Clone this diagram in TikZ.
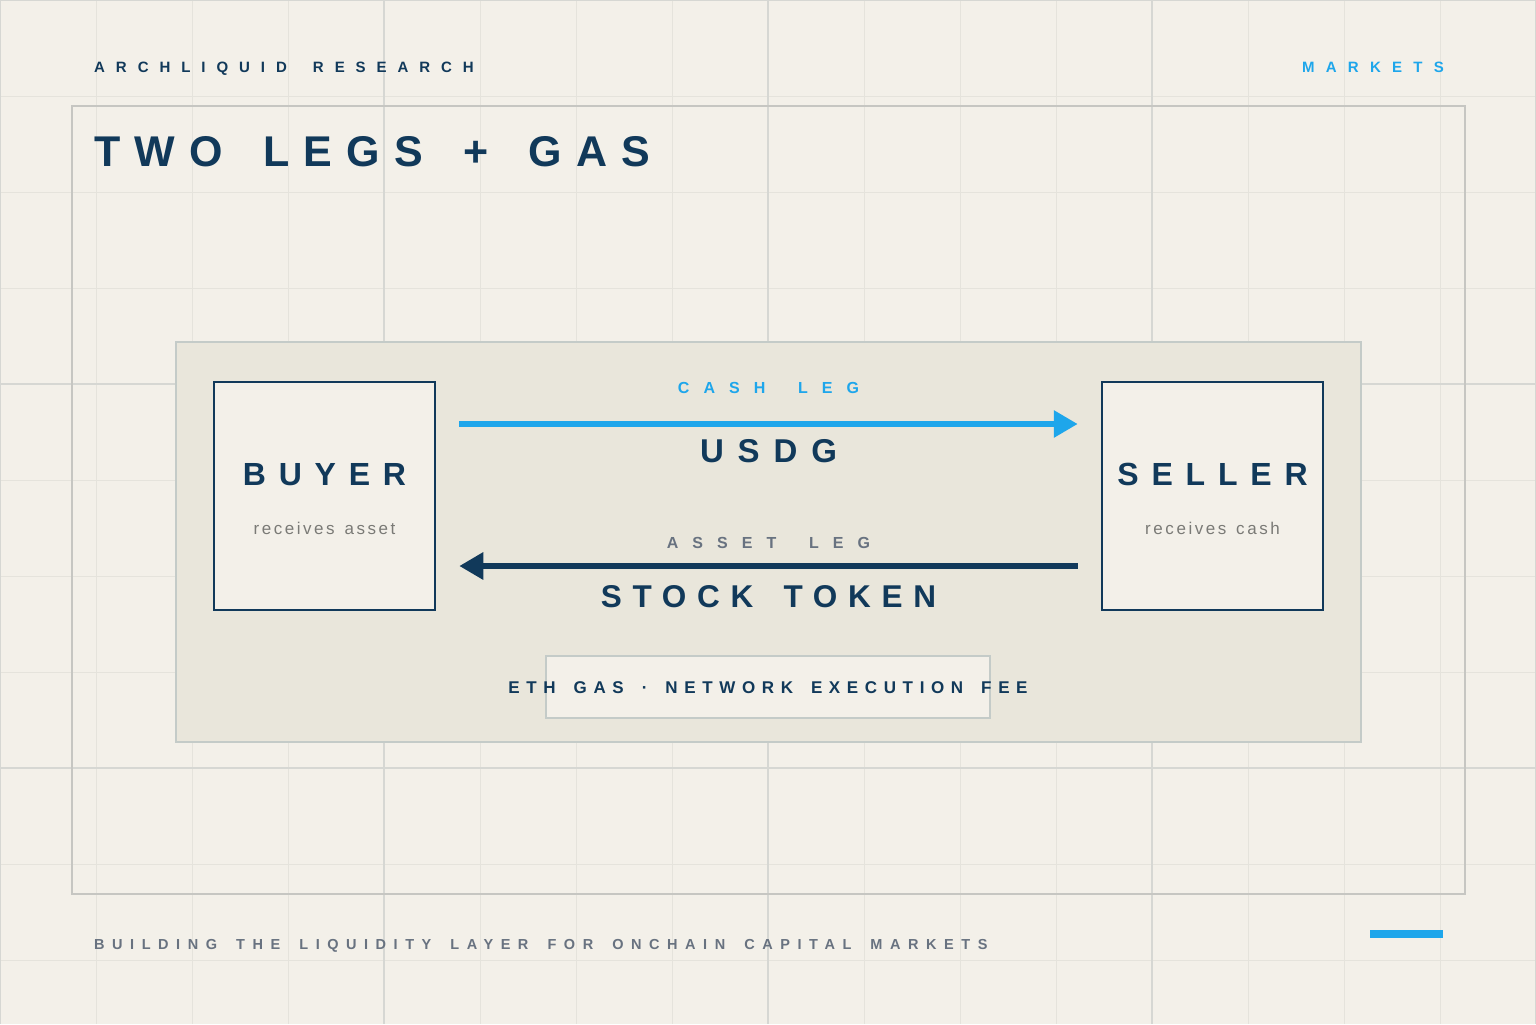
\documentclass[tikz,border=0pt]{standalone}
\usepackage{fontspec}
\setmainfont{Liberation Sans}
\usetikzlibrary{arrows.meta}
\definecolor{ink}{RGB}{17,57,90}
\definecolor{sky}{RGB}{30,166,235}
\definecolor{slate}{RGB}{104,114,128}
\definecolor{muted}{RGB}{122,122,118}
\definecolor{paper}{RGB}{243,240,233}
\definecolor{panelfill}{RGB}{233,230,219}
\definecolor{panelrule}{RGB}{196,203,200}
\definecolor{framerule}{RGB}{198,198,194}
\definecolor{gridminor}{RGB}{229,227,220}
\definecolor{gridmajor}{RGB}{214,215,211}
% size, letter spacing in percent of the size
\newcommand{\spacedfont}[2]{\fontsize{#1}{#1}\selectfont
  \addfontfeatures{LetterSpace=#2}\def\lsamount{#2}}
% word space of a tracked text
\newcommand{\wordgap}{\hspace{\dimexpr0.278em+\lsamount em/50\relax}}

\begin{document}
\begin{tikzpicture}[x=1bp,y=-1bp,
  tracked/.style 2 args={inner sep=0pt,anchor=base,font=\bfseries\spacedfont{#1}{#2}},
  note/.style={inner sep=0pt,anchor=base,text=muted,font=\spacedfont{17bp}{15}},
  party/.style={draw=ink,line width=2.5bp,fill=paper,inner sep=0pt,
    minimum width=221bp,minimum height=228bp},
  leg/.style={line width=6.5bp,-{Triangle[length=24bp,width=26bp]},
    shorten <=23bp,shorten >=23bp}]

  \useasboundingbox (0,0) rectangle (1536,1024);
  \fill[paper] (0,0) rectangle (1536,1024);
  % grid
  \foreach \g in {0,96,...,1536} \draw[gridminor,line width=1bp] (\g,0) -- (\g,1024);
  \foreach \g in {0,96,...,1024} \draw[gridminor,line width=1bp] (0,\g) -- (1536,\g);
  \foreach \g in {0,384,...,1536} \draw[gridmajor,line width=1.5bp] (\g,0) -- (\g,1024);
  \foreach \g in {0,384,768} \draw[gridmajor,line width=1.5bp] (0,\g) -- (1536,\g);
  \draw[framerule,line width=1.5bp] (72,106) rectangle (1465,894);

  \node[tracked={15bp}{73},anchor=base west,text=ink] (brand) at (94,72) {ARCHLIQUID\wordgap RESEARCH};
  \node[tracked={15bp}{75},anchor=base east,text=sky] (section) at (1444,72) {MARKETS};
  \node[tracked={43bp}{33},anchor=base west,text=ink] (title) at (94,166) {TWO\wordgap LEGS\wordgap +\wordgap GAS};

  \draw[panelrule,fill=panelfill,line width=2bp] (176,342) rectangle (1361,742);

  \node[party] (buyer) at (324.5,496) {};
  \node[party] (seller) at (1212.5,496) {};
  \node[tracked={32bp}{40},text=ink] (buyername) at ([yshift=11bp]buyer.center) {BUYER};
  \node[note] (buyernote) at ([yshift=-38bp]buyer.center) {receives\wordgap asset};
  \node[tracked={32bp}{40},text=ink] (sellername) at ([yshift=11bp]seller.center) {SELLER};
  \node[note] (sellernote) at ([yshift=-38bp]seller.center) {receives\wordgap cash};

  \draw[leg,sky] ([yshift=72bp]buyer.east) -- ([yshift=72bp]seller.west)
    node[midway,tracked={16bp}{88},yshift=30.7bp,text=sky] (cashleg) {CASH\wordgap LEG}
    node[midway,tracked={33bp}{42},yshift=-38bp,text=ink] (usdg) {USDG};
  \draw[leg,ink] ([yshift=-70bp]seller.west) -- ([yshift=-70bp]buyer.east)
    node[midway,tracked={16bp}{88},yshift=18bp,text=slate] (assetleg) {ASSET\wordgap LEG}
    node[midway,tracked={31.5bp}{34},yshift=-41bp,text=ink] (token) {STOCK\wordgap TOKEN};

  \node[draw=panelrule,line width=2.5bp,fill=paper,minimum width=444bp,minimum height=62bp] (gas) at (768,687) {};
  \node[tracked={17bp}{39},text=ink] (gasnote) at ([yshift=-6.3bp]gas.center)
    {ETH\wordgap GAS\wordgap ·\wordgap NETWORK\wordgap EXECUTION\wordgap FEE};

  \node[tracked={14.5bp}{52},anchor=base west,text=slate] (tagline) at (94,949)
    {BUILDING\wordgap THE\wordgap LIQUIDITY\wordgap LAYER\wordgap FOR\wordgap ONCHAIN\wordgap CAPITAL\wordgap MARKETS};
  \fill[sky] (1370,930) rectangle (1443,938);
\end{tikzpicture}
\end{document}
